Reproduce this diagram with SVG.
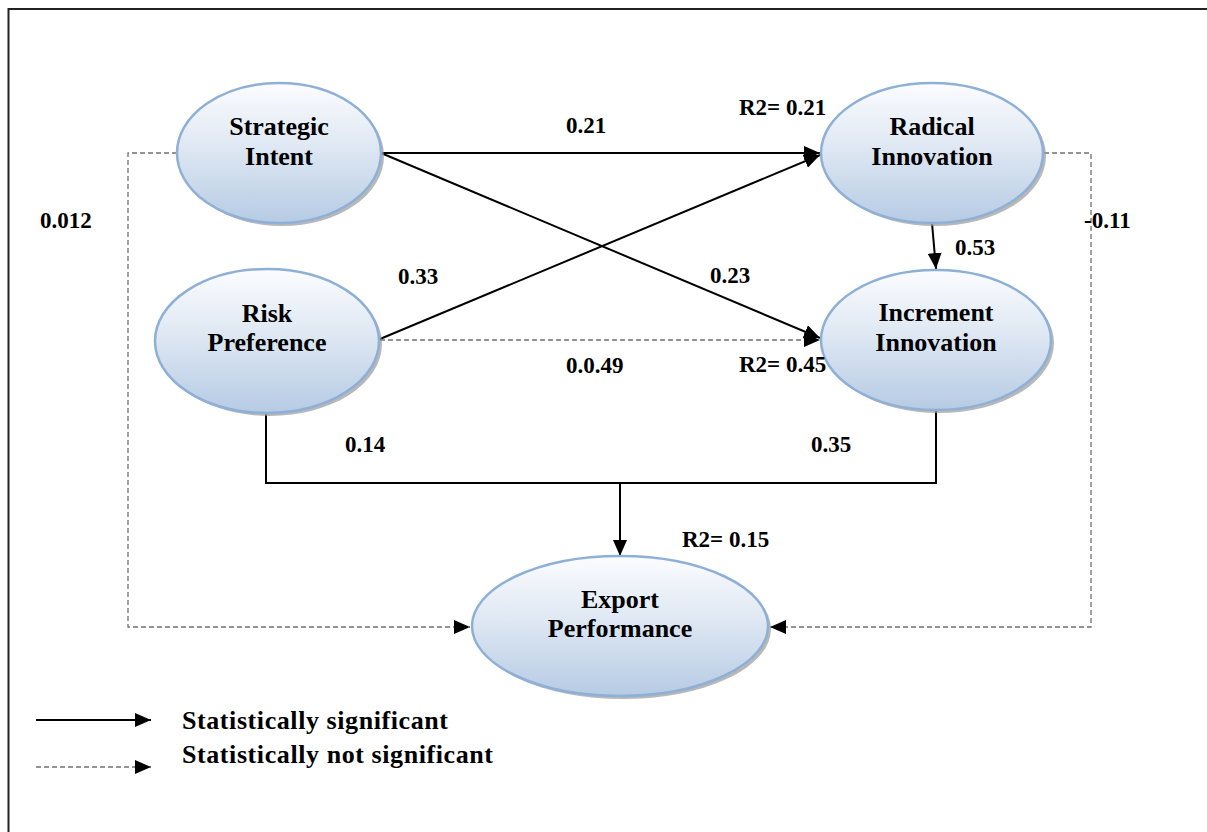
<svg xmlns="http://www.w3.org/2000/svg" width="1207" height="832" viewBox="0 0 1207 832">
<defs>
<linearGradient id="g" x1="0" y1="0" x2="0" y2="1">
<stop offset="0" stop-color="#fbfcfe"/>
<stop offset="0.45" stop-color="#dfe8f3"/>
<stop offset="1" stop-color="#b6cbe4"/>
</linearGradient>
<marker id="ah" viewBox="0 0 16 14" refX="16" refY="7" markerWidth="16" markerHeight="14" markerUnits="userSpaceOnUse" orient="auto">
<path d="M0,0 L16,7 L0,14 z" fill="#000"/>
</marker>
<style>
.node ellipse.sh{fill:#9a9a9a;opacity:0.7}
.node ellipse.bd{fill:url(#g);stroke:#8fb0d6;stroke-width:2.5}
.lbl{font-family:"Liberation Serif","Times New Roman",serif;font-weight:bold;font-size:26px;fill:#000;text-anchor:middle}
.num{font-family:"Liberation Serif","Times New Roman",serif;font-weight:bold;font-size:23px;fill:#000}
.leg{font-family:"Liberation Serif","Times New Roman",serif;font-weight:bold;font-size:26px;fill:#000}
.sol{stroke:#000;stroke-width:2;fill:none}
.dsh{stroke:#707070;stroke-width:1.3;stroke-dasharray:5 3;fill:none}
</style>
</defs>
<rect width="1207" height="832" fill="#fff"/>
<path d="M8.5,832 V9 H1207" fill="none" stroke="#222" stroke-width="2"/>

<g id="connectors">
<path class="dsh" d="M177,153 H128 V627 H470" marker-end="url(#ah)"/>
<path class="dsh" d="M1044,153 H1091 V627 H770" marker-end="url(#ah)"/>
<path class="dsh" d="M380,340 H820" marker-end="url(#ah)"/>
<path class="sol" d="M381,153 H820" marker-end="url(#ah)"/>
<path class="sol" d="M381,153 L820,338" marker-end="url(#ah)"/>
<path class="sol" d="M380,339 L820,155" marker-end="url(#ah)"/>
<path class="sol" d="M932,223 L936,269" marker-end="url(#ah)"/>
<path class="sol" d="M266,413 V483 H936 V411"/>
<path class="sol" d="M620,483 V556" marker-end="url(#ah)"/>
</g>

<g id="strategic-intent" class="node">
<ellipse class="sh" cx="282" cy="156" rx="102" ry="70"/>
<ellipse class="bd" cx="279" cy="153" rx="102" ry="70"/>
<text class="lbl" x="279" y="135">Strategic</text>
<text class="lbl" x="279" y="165">Intent</text>
</g>
<g id="radical-innovation" class="node">
<ellipse class="sh" cx="935" cy="156" rx="111" ry="70"/>
<ellipse class="bd" cx="932" cy="153" rx="111" ry="70"/>
<text class="lbl" x="932" y="135">Radical</text>
<text class="lbl" x="932" y="165">Innovation</text>
</g>
<g id="risk-preference" class="node">
<ellipse class="sh" cx="270" cy="344" rx="112" ry="72"/>
<ellipse class="bd" cx="267" cy="341" rx="112" ry="72"/>
<text class="lbl" x="267" y="322">Risk</text>
<text class="lbl" x="267" y="351">Preference</text>
</g>
<g id="increment-innovation" class="node">
<ellipse class="sh" cx="939" cy="343" rx="115" ry="70"/>
<ellipse class="bd" cx="936" cy="340" rx="115" ry="70"/>
<text class="lbl" x="936" y="321">Increment</text>
<text class="lbl" x="936" y="351">Innovation</text>
</g>
<g id="export-performance" class="node">
<ellipse class="sh" cx="623" cy="629" rx="148" ry="70"/>
<ellipse class="bd" cx="620" cy="626" rx="148" ry="70"/>
<text class="lbl" x="620" y="608">Export</text>
<text class="lbl" x="620" y="637">Performance</text>
</g>

<g id="labels">
<text class="num" x="566" y="133">0.21</text>
<text class="num" x="739" y="115">R2= 0.21</text>
<text class="num" x="40" y="228">0.012</text>
<text class="num" x="1084" y="228">-0.11</text>
<text class="num" x="955" y="255">0.53</text>
<text class="num" x="398" y="284">0.33</text>
<text class="num" x="710" y="283">0.23</text>
<text class="num" x="566" y="373">0.0.49</text>
<text class="num" x="739" y="372">R2= 0.45</text>
<text class="num" x="345" y="452">0.14</text>
<text class="num" x="811" y="452">0.35</text>
<text class="num" x="682" y="547">R2= 0.15</text>
</g>

<g id="legend">
<path class="sol" d="M36,720 H151" marker-end="url(#ah)"/>
<path class="dsh" d="M36,767 H151" marker-end="url(#ah)"/>
<text class="leg" x="182" y="729" textLength="266">Statistically significant</text>
<text class="leg" x="182" y="763" textLength="311">Statistically not significant</text>
</g>
</svg>
